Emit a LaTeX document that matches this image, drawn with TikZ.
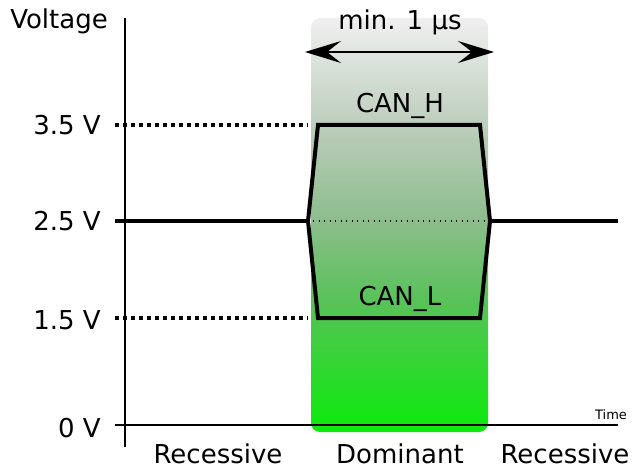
\documentclass[tikz,border=0pt]{standalone}
\usepackage{fontspec}
\setmainfont{DejaVu Sans}
\usetikzlibrary{arrows.meta}
\pgfdeclareverticalshading{domshade}{100bp}{%
	rgb(0bp)=(0.04,0.92,0.04); rgb(25bp)=(0.04,0.92,0.04);
	rgb(41bp)=(0.35,0.76,0.35); rgb(50.5bp)=(0.55,0.74,0.55);
	rgb(61.5bp)=(0.73,0.80,0.73); rgb(75bp)=(0.94,0.94,0.94);
	rgb(100bp)=(0.94,0.94,0.94)}
\begin{document}
\begin{tikzpicture}[x=1pt, y=-1pt,
	axis/.style={ line width=2pt },
	level/.style={ line width=4pt },
	guide/.style={ line width=4pt, dash pattern=on 4pt off 4pt },
	midline/.style={ line width=1.3pt, dash pattern=on 1.3pt off 4.2pt },
	lbl/.style={ inner sep=0pt, font=\fontsize{26}{30}\selectfont },
	small/.style={ inner sep=0pt, font=\fontsize{13}{15}\selectfont }
]
\useasboundingbox (0,0) rectangle (640,473);

% dominant window
\shade[shading=domshade, rounded corners=9pt] (311,18) rectangle (488,432);

% axes
\coordinate (ytop) at (125,18);
\coordinate (ybot) at (125,447);
\coordinate (xleft) at (115,425);
\coordinate (xright) at (618,425);
\draw[axis] (ytop) -- (ybot);
\draw[axis] (xleft) -- (xright);

% levels
\coordinate (h0) at (115,125);
\coordinate (r0) at (115,221);
\coordinate (l0) at (115,318);
\coordinate (s1) at (308,221);
\coordinate (h1) at (318,125);
\coordinate (h2) at (480,125);
\coordinate (s2) at (490,221);
\coordinate (l1) at (318,318);
\coordinate (l2) at (480,318);
\coordinate (r3) at (618,221);
\coordinate (h00) at (308,125);
\coordinate (l00) at (308,318);
\coordinate (m1) at (313,221);
\coordinate (m2) at (488,221);

\draw[guide] (h0) -- (h00);
\draw[guide] (l0) -- (l00);
\draw[midline] (m1) -- (m2);
\draw[level] (r0) -- (s1);
\draw[level] (s2) -- (r3);
\draw[level, line join=miter] (s1) -- (h1) -- (h2) -- (s2) -- (l2) -- (l1) -- cycle;

% duration
\coordinate (d1) at (305,52);
\coordinate (d2) at (494,52);
\draw[line width=2.5pt, {Stealth[length=36pt, width=22pt, inset=14pt]}-{Stealth[length=36pt, width=22pt, inset=14pt]}] (d1) -- (d2);

% labels
\node[lbl, anchor=east] (voltage) at (108,21) {Voltage};
\node[lbl, anchor=east] (v35) at (101,125) {3.5 V};
\node[lbl, anchor=east] (v25) at (101,221) {2.5 V};
\node[lbl, anchor=east] (v15) at (101,320) {1.5 V};
\node[lbl, anchor=east] (v0) at (101,428) {0 V};
\node[lbl] (minus) at (400,22) {min. 1 µs};
\node[lbl] (canh) at (400,106) {CAN\_H};
\node[lbl] (canl) at (400,299) {CAN\_L};
\node[small] (time) at (611,415) {Time};
\node[lbl] (rec1) at (218,454) {Recessive};
\node[lbl] (dom) at (400,454) {Dominant};
\node[lbl] (rec2) at (565,454) {Recessive};

\end{tikzpicture}
\end{document}
